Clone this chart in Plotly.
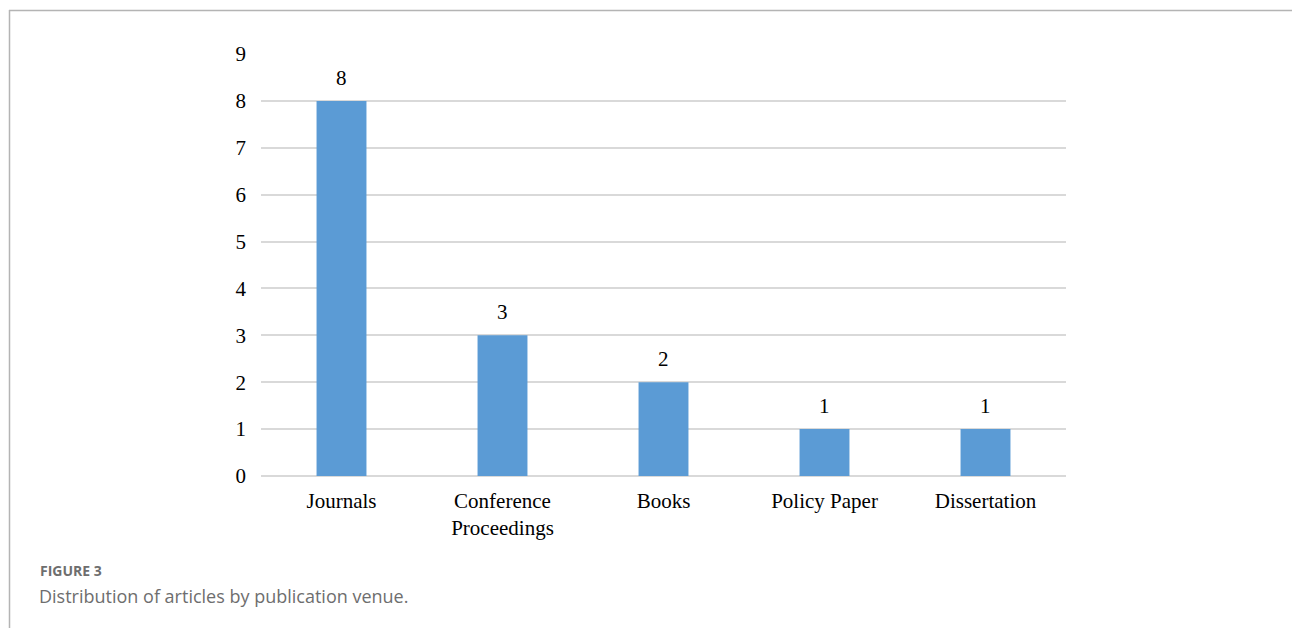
import plotly.graph_objects as go

categories = ["Journals", "Conference<br>Proceedings", "Books", "Policy Paper", "Dissertation"]
counts = [8, 3, 2, 1, 1]
y_ticks = [0, 1, 2, 3, 4, 5, 6, 7, 8, 9]

W, H = 1292, 628
L, R, T, B = 261, 226, 54, 152
pw, ph = W - L - R, H - T - B
SERIF = "Liberation Serif"

fig = go.Figure(go.Bar(
    x=categories, y=counts,
    marker=dict(color="#5b9bd5", line=dict(width=0)),
    width=0.31,
))

for c, v in zip(categories, counts):
    fig.add_annotation(x=c, y=v, text=str(v), showarrow=False,
                       yanchor="middle", yshift=23,
                       font=dict(family=SERIF, size=21, color="#000"))

fig.update_layout(
    width=W, height=H,
    margin=dict(l=L, r=R, t=T, b=B),
    paper_bgcolor="white", plot_bgcolor="white",
    showlegend=False,
    font=dict(family=SERIF, size=21, color="#000"),
)
fig.update_xaxes(
    showgrid=False, showline=False, ticks="", ticklabelstandoff=10,
    tickfont=dict(family=SERIF, size=21, color="#000"),
)
fig.update_yaxes(
    range=[0, 9], tickvals=y_ticks, showgrid=True, gridcolor="#d9d9d9", gridwidth=1.5,
    zeroline=True, zerolinecolor="#d9d9d9", zerolinewidth=1.5,
    showline=False, ticks="", ticklabelstandoff=14,
    tickfont=dict(family=SERIF, size=21, color="#000"),
)

def px_x(x):
    return (x - L) / pw

def px_y(y):
    return (H - B - y) / ph

fig.add_shape(type="line", xref="paper", yref="paper",
              x0=px_x(9), x1=px_x(W + 5), y0=px_y(10.5), y1=px_y(10.5),
              line=dict(color="#b4b4b4", width=1.5))
fig.add_shape(type="line", xref="paper", yref="paper",
              x0=px_x(9.5), x1=px_x(9.5), y0=px_y(10), y1=px_y(H + 5),
              line=dict(color="#b4b4b4", width=1.5))

fig.add_annotation(xref="paper", yref="paper", x=px_x(38), y=px_y(570),
                   xanchor="left", yanchor="middle", showarrow=False,
                   text="<b>FIGURE 3</b>",
                   font=dict(family="Open Sans", size=14, color="#6e6e6e"))
fig.add_annotation(xref="paper", yref="paper", x=px_x(37), y=px_y(596),
                   xanchor="left", yanchor="middle", showarrow=False,
                   text="Distribution of articles by publication venue.",
                   font=dict(family="Open Sans", size=18, color="#6e6e6e"))

fig.write_html("out.html")
